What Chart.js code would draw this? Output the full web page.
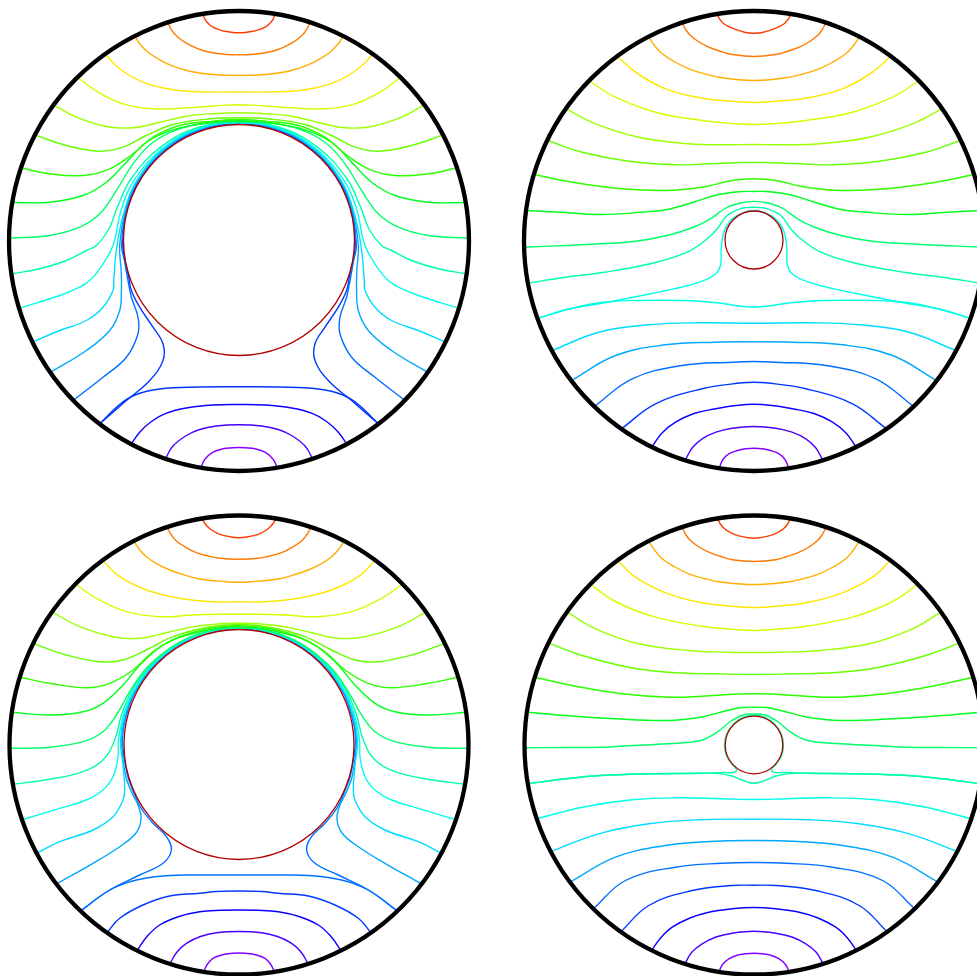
<!DOCTYPE html>
<html lang="en">
  <head>
    <meta charset="UTF-8" />
    <style>
      html, body { margin: 0; padding: 0; background: #fff; overflow: hidden; width: 977px; height: 976px; }
      canvas { position: absolute; }
      #tl { left: -5.7px; top: -4.5px; }
      #tr { left: 508.5px; top: -4.5px; }
      #bl { left: -5.7px; top: 500px; }
      #br { left: 508.5px; top: 499.5px; }
    </style>
  </head>
  <body>
    <canvas id="tl" width="490" height="490"></canvas>
    <canvas id="tr" width="490" height="490"></canvas>
    <canvas id="bl" width="490" height="490"></canvas>
    <canvas id="br" width="490" height="490"></canvas>

    <script src="https://cdn.jsdelivr.net/npm/chart.js@4.4.0/dist/chart.umd.min.js"></script>
    <script>
      // contour lines: left half of each line, from the rim to the centre line (x = 0),
      // the right half is the mirror image. units: px from the disc centre, y down.

      // top left: big inner cylinder
      var topLeftLevels = [1, 2, 3, 4, 5, 6, 7, 8, 9, 10, 11, 12, 13, 14, 15, 16, 16, 17, 18, 19];
      var topLeftLines = [
        [[-36,-227.2],[-34.3,-222.2],[-31,-217.8],[-26,-213.8],[-19.3,-211.2],[-12.6,-209.5],[-6,-208.5],[0,-208.2]],
        [[-71,-218.8],[-67.6,-211.2],[-61,-203.8],[-52.6,-197.8],[-42.6,-192.8],[-32.6,-189.5],[-19.3,-187.2],[-6,-186.2],[0,-186.2]],
        [[-104.3,-205.5],[-99.3,-197.2],[-91,-188.8],[-79.3,-181.2],[-66,-174.8],[-49.3,-169.8],[-29.3,-166.8],[0,-165.5]],
        [[-134.3,-187.2],[-119.3,-172.2],[-96,-158.8],[-66,-151.2],[-32.6,-149],[0,-149]],
        [[-161.6,-163.8],[-142.6,-149.8],[-116,-137.2],[-86,-132.2],[-52.6,-133.2],[-22.6,-135.2],[0,-136.2]],
        [[-185.3,-136.2],[-162.6,-123.8],[-132.6,-114.5],[-106,-113.2],[-82.6,-117.8],[-52.6,-124.8],[-22.6,-127.5],[0,-128.2]],
        [[-204.3,-106.2],[-172.6,-95.5],[-139.3,-89.8],[-116,-93.8],[-92.6,-105.5],[-66,-116.5],[-32.6,-121.8],[0,-123.2]],
        [[-218.6,-73.2],[-189.3,-67.2],[-156,-65.5],[-129.3,-72.2],[-106,-87.2],[-86,-103.8],[-59.3,-115.5],[-26,-119.8],[0,-121.5]],
        [[-226.6,-38.5],[-189.3,-38.8],[-156,-45.5],[-132.6,-58.8],[-112.6,-78.8],[-92.6,-98.8],[-66,-111.2],[-29.3,-118.8],[0,-120.3]],
        [[-230,-2.8],[-189.3,-5.5],[-159.3,-13.8],[-139.3,-27.2],[-122.6,-50.5],[-106,-77.2],[-86,-98.8],[-59.3,-112.2],[-26,-118.3],[0,-119.5]],
        [[-227.6,32.8],[-199.3,27.8],[-172.6,19.5],[-152.6,9.5],[-142.6,4.5],[-130,-12],[-121.7,-33.6],[-107.4,-63],[-78.1,-94.1],[-40.9,-113.5],[0,-119]],
        [[-219.3,67.2],[-179.3,54.5],[-159.3,46.2],[-149.3,39.5],[-139.3,27.8],[-126,4.5],[-117.4,-32.4],[-104.4,-61.3],[-76.7,-92.4],[-40.6,-112.6],[0,-118.5]],
        [[-207,101.2],[-179.3,89.5],[-152.6,79.5],[-136,66.2],[-126,49.5],[-125.3,39.5],[-122,4.5],[-114.2,-31.6],[-102.4,-60.1],[-76,-91.5],[-40.4,-112.1],[0,-118.1]],
        [[-188.3,131.2],[-152.6,109.5],[-129.3,89.5],[-119.3,69.5],[-117.6,49.5],[-117.8,30],[-119.3,4.5],[-113.3,-31.4],[-101.6,-59.7],[-75.4,-90.9],[-40.1,-111.3],[0,-117.8]],
        [[-166,159.5],[-136,136.2],[-112.6,116.2],[-101,92.8],[-101,76.2],[-107.6,56.2],[-111,39.5],[-114.5,20],[-117.3,4.5],[-112.7,-31.2],[-101.1,-59.4],[-75,-90.4],[-39.9,-110.7],[0,-117.5]],
        [[-139.3,182.8],[-112.6,159.5],[-89.3,139.5],[-76,119.5],[-76,102.8],[-86,86.2],[-99.3,66.2],[-107.6,49.5],[-110.5,35],[-115,15],[-116.3,0],[-112.2,-31.1],[-100.6,-59.1],[-74.7,-90],[-39.7,-110.2],[0,-117.2]],
        [[-139.3,182.8],[-120,164],[-104,154],[-79.3,148],[-39.3,146],[0,145.8]],
        [[-107.6,202.8],[-99.3,191.2],[-87.6,180.5],[-72.6,172.2],[-52.6,167],[-26,164],[0,163.5]],
        [[-73.3,217.2],[-66,205],[-52.6,194.5],[-39.3,188.5],[-22.6,185],[0,183.8]],
        [[-37.6,225.5],[-34.3,218.5],[-26,211.2],[-16,207.8],[-6,206.8],[0,206.5]]
      ];
      var topLeftOuter = 230;
      var topLeftInner = [0, -1, 115.5];

      // top right: small inner cylinder
      var topRightLevels = [1, 2, 3, 4, 5, 6, 7, 8, 9, 10, 11, 12, 12, 13, 14, 15, 16, 17, 18, 19];
      var topRightLines = [
        [[-36.8,-227.2],[-34.5,-222.2],[-30.2,-217.2],[-21.8,-212.8],[-8.5,-208.5],[0,-207.8]],
        [[-71.8,-218.2],[-68,-211],[-63.5,-205.5],[-55,-199],[-45.2,-193.8],[-33,-189.5],[-21.8,-186.5],[0,-184.5]],
        [[-105.8,-204.5],[-99.5,-195.5],[-91.8,-187.2],[-79,-179],[-65.2,-172.2],[-48,-166.8],[-31.8,-163.2],[0,-160.5]],
        [[-136.8,-184.8],[-118.5,-168.8],[-88.5,-152.2],[-51.8,-142.8],[-18.5,-139.5],[0,-138.5]],
        [[-165.2,-160.5],[-138.5,-143.8],[-98.5,-128.8],[-51.8,-120.5],[-18.5,-117.2],[0,-116.5]],
        [[-187.8,-132.2],[-158.5,-117.2],[-115.2,-103.8],[-65.2,-97.2],[-25.2,-96.2],[0,-96.5]],
        [[-206.2,-100.5],[-171.8,-88.8],[-125.2,-79.8],[-78.5,-76.2],[-45.2,-77.2],[-11.8,-78.5],[0,-78.5]],
        [[-220.2,-66.5],[-181.8,-58.8],[-131.8,-52.2],[-88.5,-50.5],[-51.8,-53.8],[-21.8,-60.5],[0,-62.2]],
        [[-227.5,-30.5],[-188.5,-28.5],[-153.5,-26.5],[-110,-29],[-86.8,-31.5],[-60,-39],[-35,-46.5],[-12,-49.5],[0,-49.5]],
        [[-230.2,6.2],[-188.5,4.5],[-153.5,2.8],[-120,0.5],[-86.8,-5.5],[-60,-14],[-43.5,-22.2],[-28,-33],[-14,-38],[0,-39.6]],
        [[-225.8,42.2],[-188.5,36.2],[-153.5,31.8],[-103.5,22.8],[-66.8,11.2],[-46.8,-2.2],[-36.8,-12.2],[-26.8,-25.5],[-13.5,-32.2],[0,-33.7]],
        [[-215.8,77.2],[-185,68],[-153.5,62.5],[-103.5,52.8],[-60.2,42.8],[-40.2,34.5],[-33.5,24.5],[-32.8,7.8],[-30.2,-8.8],[-23.5,-20.5],[-13.5,-27.2],[0,-30.5]],
        [[-215.8,77.2],[-185,68],[-153.5,61.5],[-120.2,59.5],[-70.2,59.5],[-36.8,61.8],[-13.5,65.2],[0,66]],
        [[-201.8,109.5],[-155.2,91.2],[-105.2,83.8],[-55.2,81.8],[0,82.2]],
        [[-182.5,139.5],[-138.5,114.5],[-88.5,103.8],[-38.5,101.2],[0,100.8]],
        [[-159.2,165.2],[-121.8,137.8],[-71.8,124.5],[-21.8,121.2],[0,120.5]],
        [[-131.8,187.2],[-98.5,162.8],[-51.8,147.8],[-11.8,141.8],[0,141.2]],
        [[-101.8,205.5],[-92,192],[-78.5,181.2],[-60,172.5],[-38.5,167.8],[-18,164.5],[0,163.2]],
        [[-68.5,218.5],[-61.5,206.5],[-51.8,197.8],[-38,191.2],[-21.8,187.2],[0,185.5]],
        [[-34.5,226.2],[-31,218.5],[-25.2,212.8],[-16.5,209.5],[-8.5,207.8],[0,207.2]]
      ];
      var topRightOuter = 230;
      var topRightInner = [0, -1, 29];

      // bottom left: big inner cylinder
      var bottomLeftLevels = [1, 2, 3, 4, 5, 6, 7, 8, 9, 10, 11, 12, 13, 14, 15, 15, 16, 17, 18, 19];
      var bottomLeftLines = [
        [[-37,-226.7],[-34.5,-222],[-30,-217],[-25,-213.5],[-19.3,-210.7],[-6,-207.7],[0,-207.3]],
        [[-72,-218],[-68,-210.5],[-62.6,-204],[-53,-197.5],[-42.6,-192.3],[-30,-188.8],[-19.3,-186.7],[0,-185.7]],
        [[-105.3,-204],[-99.5,-195.5],[-92.6,-188.3],[-81.5,-180.8],[-69.3,-175],[-54,-169.8],[-39.3,-166],[-12.6,-163.3],[0,-162.7]],
        [[-136.6,-185],[-119.3,-168.3],[-92.6,-155],[-59.3,-146.7],[-26,-143.3],[0,-143.3]],
        [[-163.6,-161],[-142.6,-146.7],[-112.6,-133.3],[-79.3,-128.3],[-46,-130],[-19.3,-130.7],[0,-130.7]],
        [[-187.6,-133.3],[-159.3,-118.3],[-126,-108.3],[-99.3,-106.7],[-72.6,-112.3],[-39.3,-119.3],[0,-122]],
        [[-206,-101.7],[-172.6,-90],[-139.3,-83.3],[-116,-85],[-92.6,-95],[-66,-108.3],[-32.6,-117.5],[0,-120.5]],
        [[-218.6,-67.7],[-189.3,-61.7],[-152.6,-57.3],[-129.3,-61.7],[-106,-75],[-86,-93.3],[-59.3,-108.3],[-26,-117.3],[0,-119.3]],
        [[-227.6,-32.7],[-189.3,-30],[-156,-33.3],[-136,-41.7],[-116,-60],[-96,-83.3],[-72.6,-101.7],[-39.3,-113],[0,-118.5]],
        [[-231,3.3],[-189.3,2.3],[-156,-3.3],[-136,-13.3],[-122.6,-30],[-109.3,-53.3],[-92.6,-76.7],[-66,-98.8],[-40.3,-111.2],[0,-117.8]],
        [[-226.6,39.3],[-189.3,34.3],[-156,26.7],[-136,15],[-124.3,-5],[-116.9,-31.8],[-103.5,-60.3],[-75.8,-90.9],[-40.1,-110.6],[0,-117.2]],
        [[-217.6,75],[-179.3,63.3],[-152.6,55],[-136,45],[-126,31.7],[-121,12],[-120.5,-5],[-115,-31.3],[-102.2,-59.5],[-75.4,-90.4],[-39.9,-110.3],[0,-116.8]],
        [[-202.6,108.3],[-179.3,96.7],[-146,85],[-126,71.7],[-116,55],[-114.3,45],[-116,20],[-118.5,-5],[-114,-31],[-101.6,-59.2],[-75.1,-90],[-39.8,-109.9],[0,-116.4]],
        [[-182.6,139],[-146,118.3],[-119.3,101.7],[-103,88],[-98,74],[-101,60],[-107,48],[-113.5,30],[-117.3,-5],[-113,-30.8],[-101.1,-58.9],[-74.8,-89.7],[-39.7,-109.6],[0,-116.1]],
        [[-159.3,166.7],[-129.3,145],[-99.3,130],[-76,118.3],[-67.6,105],[-72.6,91.7],[-86,78.3],[-98,63],[-105.5,47],[-112,28],[-116.5,-5],[-112.3,-30.6],[-100.6,-58.6],[-74.6,-89.4],[-39.6,-109.3],[0,-115.8]],
        [[-159.3,166.7],[-129.3,145],[-102.6,135],[-69.3,130.5],[-39.3,130],[0,130]],
        [[-132,187.7],[-119.3,173.3],[-96,160],[-69.3,151],[-39.3,148.3],[-22.6,146.5],[0,146]],
        [[-102,205.7],[-92,191.5],[-79.3,180],[-60,171.5],[-39.3,166.7],[-18,165.3],[0,165]],
        [[-69.3,219],[-62,207],[-52.6,198.3],[-38.5,191.5],[-22.6,187.7],[0,186.5]],
        [[-35.3,226.7],[-31.5,219],[-26,213.3],[-16.5,209.8],[-6,208.3],[0,208]]
      ];
      var bottomLeftOuter = 229.5;
      var bottomLeftInner = [0, -0.5, 115];

      // bottom right: small inner cylinder
      var bottomRightLevels = [1, 2, 3, 4, 5, 6, 7, 8, 9, 10, 11, 11, 12, 13, 14, 15, 16, 17, 18, 19];
      var bottomRightLines = [
        [[-36.2,-226.2],[-34,-221.5],[-29.5,-216.2],[-24.5,-213],[-18.5,-210.2],[-5.2,-207.2],[0,-206.8]],
        [[-71.8,-217.2],[-68,-210],[-63.5,-204.5],[-55,-198],[-45.2,-192.8],[-33,-188.5],[-21.8,-185.2],[0,-183.5]],
        [[-105.2,-203.5],[-99,-194.5],[-91.8,-186.2],[-79,-178],[-65.2,-171.2],[-48,-166],[-31.8,-162.8],[0,-160.5]],
        [[-136.2,-184.5],[-118.5,-167.8],[-88.5,-152.2],[-51.8,-142.2],[-18.5,-138.5],[0,-137.5]],
        [[-163.5,-160.5],[-138.5,-143.5],[-98.5,-127.8],[-51.8,-118.8],[-18.5,-115.5],[0,-114.5]],
        [[-186.8,-132.8],[-158.5,-116.2],[-115.2,-101.2],[-65.2,-94.5],[-25.2,-92.8],[0,-92.5]],
        [[-205.2,-101.8],[-171.8,-89.5],[-125.2,-77.8],[-78.5,-72.2],[-38.5,-71.2],[0,-70.5]],
        [[-218.5,-67.5],[-181.8,-59.5],[-131.8,-51.2],[-85.2,-47.8],[-51.8,-48.8],[-21.8,-50.8],[0,-51.2]],
        [[-226.8,-32.8],[-188.5,-29.5],[-138.5,-26.2],[-86.8,-24.5],[-53.5,-27.8],[-26.8,-34.5],[-12,-37.5],[0,-37.8]],
        [[-230.2,2.8],[-188.5,2.5],[-153.5,2.2],[-120,0.5],[-86.8,-1.2],[-53.5,-4.5],[-36.8,-12.8],[-23.5,-23.5],[-11,-30],[0,-31]],
        [[-225.8,38.8],[-188.5,33.8],[-153.5,30.5],[-103.5,28.8],[-53.5,28.2],[-30,27.5],[-21,27.5],[-17.5,25],[-23,18],[-27.8,10],[-29.5,0],[-27.5,-10.5],[-21,-20.5],[-11,-27.5],[0,-29.8]],
        [[-225.8,38.8],[-188.5,33.8],[-153.5,30.5],[-103.5,28.8],[-53.5,28.2],[-35,28.6],[-22,31],[-12,35],[-5,37.5],[0,38]],
        [[-216.8,73.8],[-171.8,62.2],[-121.8,54.8],[-71.8,52.8],[-31.8,53.8],[0,54.5]],
        [[-203.5,106.5],[-155.2,88.8],[-105.2,78.8],[-55.2,74.8],[0,74.2]],
        [[-184.2,137.2],[-138.5,112.2],[-88.5,100.5],[-38.5,96.2],[0,95.5]],
        [[-160.8,163.8],[-128.5,135.5],[-78.5,122.2],[-31.8,118.2],[0,117.5]],
        [[-133.5,187.2],[-105.2,160.5],[-61.8,145.5],[-21.8,140.5],[0,140.2]],
        [[-102.5,205.5],[-93,192.5],[-81.8,182.2],[-64,173],[-45.2,167.2],[-22,163.8],[0,162.5]],
        [[-69.2,218.8],[-62,207],[-51.8,198.8],[-38,192],[-21.8,188.2],[0,186.2]],
        [[-35.2,227.2],[-31.5,219.5],[-25.2,213.8],[-16.5,210.2],[-8.5,208.8],[0,208.2]]
      ];
      var bottomRightOuter = 229.5;
      var bottomRightInner = [0, 0, 28.8];

      var levelColors = [
        "#ff3c00", "#ff7a00", "#ffae00", "#ffe600", "#d4ff00", "#9dff00", "#66ff00",
        "#2eff00", "#00ff1e", "#00ff6a", "#00ffaa", "#00ffe8", "#00dcff", "#00a8ff",
        "#0070ff", "#0038ff", "#0a00ff", "#4a00ff", "#8400ff"
      ];

      // left half + mirrored right half
      function wholeLine(half) {
        var pts = half.map(function (p) { return { x: p[0], y: p[1] }; });
        var back = half.slice(0, -1).reverse().map(function (p) { return { x: -p[0], y: p[1] }; });
        return pts.concat(back);
      }

      function radiusPx(chart, r) {
        var s = chart.scales.x;
        if (!s) return 0;
        return Math.abs(s.getPixelForValue(r) - s.getPixelForValue(0));
      }

      function drawPanel(id, lines, levels, outerR, inner) {
        var datasets = [
          {
            data: [{ x: 0, y: 0 }],
            showLine: false,
            pointRadius: function (c) { return radiusPx(c.chart, outerR); },
            pointBorderWidth: 4.3,
            pointBorderColor: "#000",
            pointBackgroundColor: "rgba(0,0,0,0)",
          },
          {
            data: [{ x: inner[0], y: inner[1] }],
            showLine: false,
            pointRadius: function (c) { return radiusPx(c.chart, inner[2]); },
            pointBorderWidth: 1.3,
            pointBorderColor: "#b00000",
            pointBackgroundColor: "rgba(0,0,0,0)",
          },
        ];
        lines.forEach(function (half, i) {
          datasets.push({
            data: wholeLine(half),
            showLine: true,
            pointRadius: 0,
            borderColor: levelColors[levels[i] - 1],
            borderWidth: 1.4,
            tension: 0.4,
            fill: false,
          });
        });
        new Chart(document.getElementById(id), {
          type: "scatter",
          data: { datasets: datasets },
          options: {
            responsive: false,
            animation: false,
            events: [],
            layout: { padding: 0, autoPadding: false },
            plugins: { legend: { display: false }, tooltip: { enabled: false } },
            scales: {
              x: { type: "linear", min: -245, max: 245, display: false },
              y: { type: "linear", min: -245, max: 245, reverse: true, display: false },
            },
          },
        });
      }

      drawPanel("tl", topLeftLines, topLeftLevels, topLeftOuter, topLeftInner);
      drawPanel("tr", topRightLines, topRightLevels, topRightOuter, topRightInner);
      drawPanel("bl", bottomLeftLines, bottomLeftLevels, bottomLeftOuter, bottomLeftInner);
      drawPanel("br", bottomRightLines, bottomRightLevels, bottomRightOuter, bottomRightInner);
    </script>
  </body>
</html>
